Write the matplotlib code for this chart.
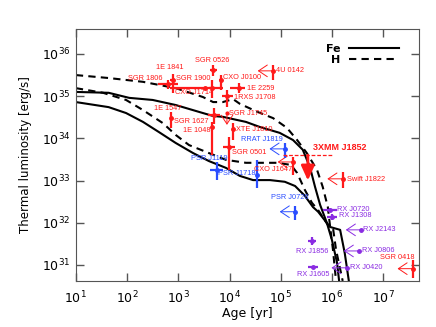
import numpy as np
import matplotlib.pyplot as plt
from matplotlib.lines import Line2D

RED = '#ff1a1a'
BLUE = '#2a4dff'
PURPLE = '#8a2be2'

# cooling curves: log10(age / yr), log10(L / erg s^-1)
fe_hi_age = [1.00, 1.64, 2.04, 2.50, 2.95, 3.48, 3.68, 3.87, 4.13, 4.32, 4.59, 4.98, 5.24, 5.43, 5.57,
             5.67, 5.77, 5.90, 6.00, 6.10, 6.14]
fe_hi_lum = [35.10, 35.08, 34.96, 34.91, 34.79, 34.60, 34.53, 34.51, 34.44, 34.39, 34.27, 34.13, 33.96,
             33.73, 33.32, 32.85, 32.42, 32.00, 31.59, 31.05, 30.62]
fe_lo_age = [1.00, 1.64, 1.98, 2.31, 2.62, 2.95, 3.29, 3.60, 3.93, 4.20, 4.46, 4.79, 5.08, 5.28, 5.47,
             5.63, 5.73, 5.96, 6.16, 6.25, 6.33]
fe_lo_lum = [34.86, 34.74, 34.60, 34.39, 34.15, 33.89, 33.65, 33.46, 33.30, 33.11, 33.01, 33.01, 32.97,
             32.87, 32.64, 32.37, 32.26, 31.90, 31.83, 31.28, 30.62]
h_hi_age = [1.00, 1.64, 2.31, 2.95, 3.48, 3.68, 3.87, 4.07, 4.20, 4.54, 4.85, 5.12, 5.32, 5.51, 5.71,
            5.82, 5.92, 5.96, 6.02, 6.08]
h_hi_lum = [35.50, 35.43, 35.34, 35.19, 34.98, 34.86, 34.86, 34.93, 34.82, 34.63, 34.48, 34.25, 33.96,
            33.65, 33.25, 32.85, 32.37, 31.95, 31.36, 30.62]
h_lo_age = [1.00, 1.53, 1.98, 2.31, 2.70, 2.95, 3.21, 3.60, 3.93, 4.32, 4.93, 5.20, 5.32, 5.47, 5.61,
            5.73, 5.92, 6.02, 6.08, 6.21]
h_lo_lum = [35.19, 35.08, 34.91, 34.67, 34.36, 34.08, 33.84, 33.65, 33.49, 33.42, 33.42, 33.37, 33.18,
            32.78, 32.47, 32.30, 31.95, 31.88, 31.36, 30.62]

# sources: name, log age, log L, age range, L range, age is upper limit
mag_names = ['SGR 0526', '1E 1841', 'SGR 1806', 'SGR 1900', 'CXO J1714', 'CXO J0100', '1E 2259',
             '1RXS J1708', '4U 0142', 'SGR 1627', '1E 1048', '1E 1547', 'XTE J1810', 'SGR 0501',
             'CXO J1647', 'Swift J1822', 'SGR 0418']
mag_age = [3.68, 2.89, 2.80, 3.66, 3.52, 3.83, 4.18, 3.95, 4.85, 3.70, 3.66, 2.86, 4.07, 3.99, 5.24, 6.21, 7.58]
mag_age_lo = [3.61, 2.84, 2.60, 3.60, 2.84, 3.80, 4.01, 3.85, 4.85, 3.58, 3.66, 2.86, 4.07, 3.87, 5.24, 6.21, 7.58]
mag_age_hi = [3.76, 2.94, 2.99, 3.72, 3.87, 3.86, 4.30, 4.07, 4.85, 3.81, 3.66, 2.86, 4.07, 4.11, 5.24, 6.21, 7.58]
mag_lum = [35.62, 35.38, 35.29, 35.19, 35.19, 35.38, 35.19, 35.00, 35.60, 34.55, 34.27, 34.48, 34.22, 33.80, 33.44, 33.04, 30.91]
mag_lum_lo = [35.48, 35.08, 35.18, 34.96, 35.17, 35.15, 35.08, 34.74, 35.38, 34.34, 33.61, 34.25, 33.96, 33.25, 33.13, 32.82, 30.69]
mag_lum_hi = [35.74, 35.53, 35.38, 35.38, 35.21, 35.50, 35.31, 35.15, 35.74, 34.72, 34.39, 34.63, 34.36, 34.03, 33.56, 33.20, 31.12]
mag_lim = [False, False, False, False, False, False, False, False, True, False, False, False, False, False, True, True, True]

hbp_names = ['PSR J1119', 'PSR J1718', 'RRAT J1819', 'PSR J0726']
hbp_age = [3.75, 4.54, 5.08, 5.28]
hbp_age_lo = [3.62, 4.54, 5.08, 5.28]
hbp_age_hi = [3.87, 4.54, 5.08, 5.28]
hbp_lum = [33.25, 33.13, 33.75, 32.26]
hbp_lum_lo = [33.01, 32.82, 33.54, 32.07]
hbp_lum_hi = [33.44, 33.49, 33.89, 32.40]
hbp_lim = [False, False, True, True]

xdins_names = ['RX J0720', 'RX J1308', 'RX J2143', 'RX J0806', 'RX J0420', 'RX J1856', 'RX J1605']
xdins_age = [5.96, 6.00, 6.57, 6.53, 6.29, 5.61, 5.63]
xdins_age_lo = [5.82, 5.90, 6.57, 6.53, 6.29, 5.53, 5.53]
xdins_age_hi = [6.10, 6.10, 6.57, 6.53, 6.29, 5.69, 5.73]
xdins_lum = [32.30, 32.14, 31.83, 31.33, 30.93, 31.57, 30.95]
xdins_lum_lo = [32.25, 32.07, 31.80, 31.30, 30.90, 31.47, 30.92]
xdins_lum_hi = [32.35, 32.21, 31.86, 31.36, 30.96, 31.67, 30.98]
xdins_lim = [False, False, True, True, True, False, False]

# SGR J1745: luminosity upper limit; 3XMM J1852: age range, L upper limit
j1745_age, j1745_lum = 3.95, 34.60
j1852_age, j1852_lum = 5.53, 33.60
j1852_age_lo, j1852_age_hi = 5.04, 6.02

# label offsets in pixels (ha, dx, dy)
label_pos = {
    'SGR 0526': ('center', -1, 10), '1E 1841': ('center', -3, 13), 'SGR 1806': ('right', -6, 5),
    'SGR 1900': ('right', -2, 10), 'CXO J1714': ('left', -30, -4), 'CXO J0100': ('left', 2, 3),
    '1E 2259': ('left', 8, 0), '1RXS J1708': ('left', 7, -1), '4U 0142': ('left', 3, 0),
    'SGR 1627': ('right', -6, -6), '1E 1048': ('right', -2, -4), '1E 1547': ('center', -3, 10),
    'XTE J1810': ('left', 3, 0), 'SGR 0501': ('left', 3, -6), 'CXO J1647': ('right', -1, -8),
    'Swift J1822': ('left', 4, -1), 'SGR 0418': ('right', 2, 11),
    'PSR J1119': ('center', -7, 11), 'PSR J1718': ('right', -2, 2), 'RRAT J1819': ('right', -2, 9),
    'PSR J0726': ('center', -5, 14),
    'RX J0720': ('left', 7, 1), 'RX J1308': ('left', 7, 1), 'RX J2143': ('left', 2, 0),
    'RX J0806': ('left', 3, 0), 'RX J0420': ('left', 3, 0), 'RX J1856': ('center', 0, -11),
    'RX J1605': ('center', 0, -8),
}

LABEL_FONT = 'Liberation Sans'

fig = plt.figure(figsize=(4.36, 3.27), dpi=100)
ax = fig.add_axes([0.174, 0.141, 0.787, 0.770])

ax.plot(10**np.array(fe_hi_age), 10**np.array(fe_hi_lum), 'k-', lw=1.5)
ax.plot(10**np.array(fe_lo_age), 10**np.array(fe_lo_lum), 'k-', lw=1.5)
ax.plot(10**np.array(h_hi_age), 10**np.array(h_hi_lum), 'k--', lw=1.5, dashes=(3.5, 2.5))
ax.plot(10**np.array(h_lo_age), 10**np.array(h_lo_lum), 'k--', lw=1.5, dashes=(3.5, 2.5))


def draw_group(names, age, age_lo, age_hi, lum, lum_lo, lum_hi, lim, color):
    x = 10**np.array(age)
    y = 10**np.array(lum)
    xerr = [x - 10**np.array(age_lo), 10**np.array(age_hi) - x]
    yerr = [y - 10**np.array(lum_lo), 10**np.array(lum_hi) - y]
    ax.errorbar(x, y, xerr=xerr, yerr=yerr, fmt='o', ms=2.5, color=color,
                elinewidth=1.6, capsize=0, zorder=4)
    for i, name in enumerate(names):
        if lim[i]:
            ax.annotate('', xy=(x[i] / 10**0.3, y[i]), xytext=(x[i], y[i]),
                        arrowprops=dict(arrowstyle='->,head_length=0.9,head_width=0.6',
                                        color=color, lw=0.7, mutation_scale=7,
                                        shrinkA=0, shrinkB=0), zorder=4)
        ha, dx, dy = label_pos[name]
        ax.annotate(name, (x[i], y[i]), xytext=(dx, dy), textcoords='offset pixels',
                    ha=ha, va='center', fontsize=5.3, color=color, family=LABEL_FONT, zorder=5)


draw_group(mag_names, mag_age, mag_age_lo, mag_age_hi, mag_lum, mag_lum_lo, mag_lum_hi, mag_lim, RED)
draw_group(hbp_names, hbp_age, hbp_age_lo, hbp_age_hi, hbp_lum, hbp_lum_lo, hbp_lum_hi, hbp_lim, BLUE)
draw_group(xdins_names, xdins_age, xdins_age_lo, xdins_age_hi, xdins_lum, xdins_lum_lo, xdins_lum_hi,
           xdins_lim, PURPLE)

# SGR J1745 (upper limit on L)
ax.plot([10**j1745_age], [10**j1745_lum], 'o', ms=2, color=RED, zorder=4)
ax.annotate('', xy=(10**j1745_age, 10**(j1745_lum - 0.28)), xytext=(10**j1745_age, 10**j1745_lum),
            arrowprops=dict(arrowstyle='->,head_length=0.9,head_width=0.6', color=RED, lw=0.7,
                            mutation_scale=7, shrinkA=0, shrinkB=0), zorder=4)
ax.annotate('SGR J1745', (10**j1745_age, 10**j1745_lum), xytext=(2, 0), textcoords='offset pixels',
            ha='left', va='center', fontsize=5.3, color=RED, family=LABEL_FONT, zorder=5)

# 3XMM J1852
ax.plot([10**j1852_age_lo, 10**j1852_age_hi], [10**j1852_lum, 10**j1852_lum], '--',
        color=RED, lw=0.9, dashes=(3, 1.5), zorder=4)
ax.annotate('', xy=(10**j1852_age, 10**(j1852_lum - 0.6)), xytext=(10**j1852_age, 10**j1852_lum),
            arrowprops=dict(arrowstyle='-|>,head_length=1.1,head_width=0.5', color=RED, lw=2.0,
                            mutation_scale=8, shrinkA=0, shrinkB=0), zorder=5)
ax.annotate('3XMM J1852', (10**j1852_age, 10**j1852_lum), xytext=(5, 8), textcoords='offset pixels',
            ha='left', va='center', fontsize=6.5, color=RED, fontweight='bold',
            family=LABEL_FONT, zorder=5)

ax.set_xscale('log')
ax.set_yscale('log')
ax.set_xlim(10.0, 10**7.70)
ax.set_ylim(10**30.62, 10**36.59)
ax.set_xticks([10.0**k for k in range(1, 8)])
ax.set_yticks([10.0**k for k in range(31, 37)])
ax.minorticks_off()
ax.tick_params(which='major', direction='in', length=6, width=1, top=True, right=True,
               labelsize=9, color='#555555')
ax.tick_params(axis='x', pad=6)
ax.tick_params(axis='y', pad=4)
for s in ax.spines.values():
    s.set_color('#555555')
ax.set_xlabel('Age [yr]', fontsize=9, labelpad=1)
ax.set_ylabel('Thermal luminosity [erg/s]', fontsize=8.5, labelpad=7)

handles = [Line2D([], [], color='k', lw=1.5), Line2D([], [], color='k', lw=1.5, ls='--', dashes=(3.5, 2.5))]
leg = ax.legend(handles, ['Fe', 'H'], loc='upper right', bbox_to_anchor=(0.955, 0.96), frameon=False,
                markerfirst=False, handlelength=4.5, prop={'weight': 'bold', 'size': 8},
                labelspacing=0.1, borderaxespad=0)

fig.savefig('out.png', dpi=100)
